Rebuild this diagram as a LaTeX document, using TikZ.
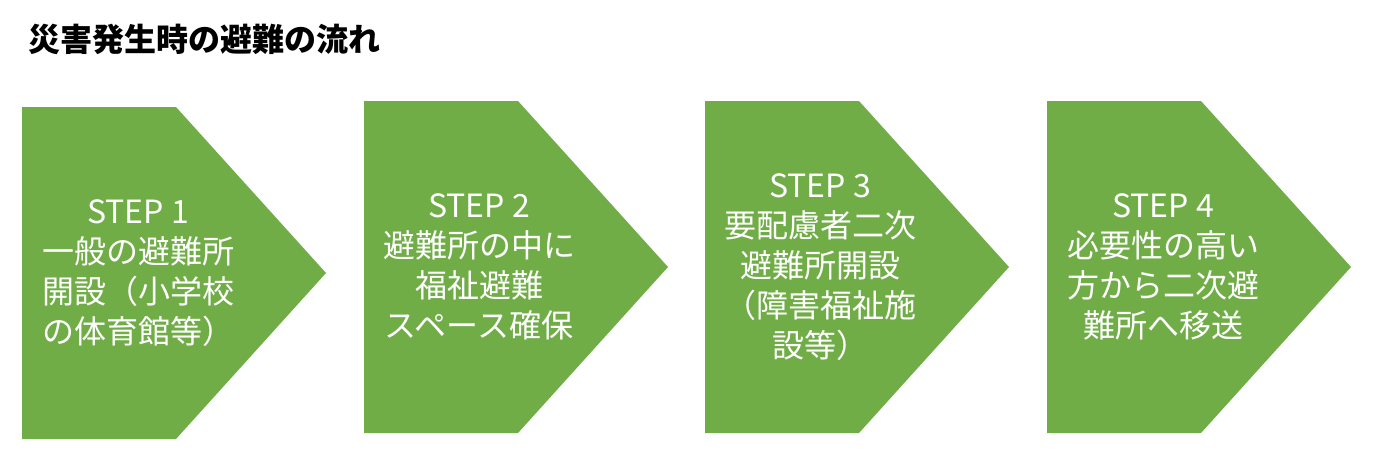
\documentclass[tikz,border=0pt]{standalone}
\usepackage{fontspec}
\setmainfont{Noto Sans CJK JP}
\usepackage{xcolor}
\usepackage{tikz}
\usetikzlibrary{positioning}
\definecolor{stepgreen}{HTML}{70AD47}

\begin{document}
\begin{tikzpicture}[x=1pt,y=-1pt,
        chevron/.style={fill=stepgreen,draw=none},
        steptext/.style={align=center,text=white,inner sep=0pt,font=\fontsize{32}{40}\selectfont},
        headline/.style={anchor=west,inner sep=0pt,font=\fontsize{32}{38}\selectfont\bfseries}]
    \useasboundingbox (0,0) rectangle (1387,463);
    \node[headline] (title) at (28,39) {災害発生時の避難の流れ};
    % chevrons
    \fill[chevron] (22,107) -- (176,107) -- (326,273) -- (176,439) -- (22,439) -- cycle;
    \fill[chevron] (364,101) -- (518,101) -- (668,267) -- (518,433) -- (364,433) -- cycle;
    \fill[chevron] (705,101) -- (859,101) -- (1009,267) -- (859,433) -- (705,433) -- cycle;
    \fill[chevron] (1047,101) -- (1201,101) -- (1351,267) -- (1201,433) -- (1047,433) -- cycle;
    % texts
    \node[steptext] (s1) at (138,273) {STEP 1\\一般の避難所\\開設（小学校\\の体育館等）};
    \node[steptext] (s2) at (479,267) {STEP 2\\避難所の中に\\福祉避難\\スペース確保};
    \node[steptext] (s3) at (820,267) {STEP 3\\要配慮者二次\\避難所開設\\（障害福祉施\\設等）};
    \node[steptext] (s4) at (1163,267) {STEP 4\\必要性の高い\\方から二次避\\難所へ移送};
\end{tikzpicture}
\end{document}
